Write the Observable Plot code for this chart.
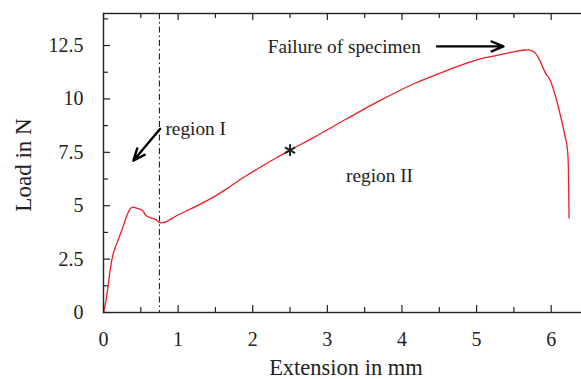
<!DOCTYPE html>
<html><head><meta charset="utf-8">
<script src="https://cdn.jsdelivr.net/npm/d3@7"></script>
<script src="https://cdn.jsdelivr.net/npm/@observablehq/plot@0.6"></script>
<style>
html,body{margin:0;padding:0;background:#fff;overflow:hidden}
#chart svg, #chart svg text, #chart svg g { font-family: "Liberation Serif", "DejaVu Serif", serif !important; }
</style>
</head><body><div id="chart"></div>
<script>
// Measured load-extension curve
const extension = [0, 0.03, 0.06, 0.09, 0.12, 0.18, 0.25, 0.32, 0.37, 0.40, 0.45, 0.50, 0.53, 0.56, 0.61, 0.70, 0.76, 0.81, 0.98, 1.21, 1.43, 1.65, 1.88, 2.10, 2.33, 2.5, 2.82, 3.26, 3.71, 4.16, 4.60, 5.05, 5.27, 5.50, 5.63, 5.70, 5.78, 5.85, 5.92, 5.98, 6.05, 6.12, 6.18, 6.22, 6.23, 6.24];
const load      = [0, 0.5, 1.2, 2.0, 2.6, 3.25, 3.9, 4.6, 4.9, 4.93, 4.88, 4.82, 4.75, 4.58, 4.46, 4.35, 4.2, 4.22, 4.53, 4.92, 5.32, 5.79, 6.33, 6.80, 7.27, 7.6, 8.20, 9.07, 9.93, 10.71, 11.33, 11.88, 12.04, 12.2, 12.29, 12.3, 12.17, 11.78, 11.23, 10.92, 10.22, 9.28, 8.34, 7.56, 6.77, 4.43];

// Axis ticks
const xMajorTicks = [0, 1, 2, 3, 4, 5, 6];
const xMinorTicks = [0.5, 1.5, 2.5, 3.5, 4.5, 5.5];
const yMajorTicks = [0, 2.5, 5, 7.5, 10, 12.5];
const yMinorTicks = [1.25, 3.75, 6.25, 8.75, 11.25, 13.75];

// Annotations
const boundaryX = [0.75];
const markerX = [2.5];
const markerY = [7.6];
const startNotes = ["region I", "Failure of specimen"];
const startNoteX = [0.83, 2.20];
const startNoteY = [8.6, 12.42];
const middleNotes = ["region II"];
const middleNoteX = [3.70];
const middleNoteY = [6.41];
const arrowX1 = [0.76, 4.47];
const arrowY1 = [8.6, 12.46];
const arrowX2 = [0.40, 5.36];
const arrowY2 = [7.11, 12.46];
const xLabel = "Extension in mm";
const yLabel = "Load in N";

const curve = extension.map((x, i) => ({x, y: load[i]}));
const notesStart = startNotes.map((t, i) => ({t, x: startNoteX[i], y: startNoteY[i]}));
const notesMiddle = middleNotes.map((t, i) => ({t, x: middleNoteX[i], y: middleNoteY[i]}));
const arrows = arrowX1.map((x1, i) => ({x1, y1: arrowY1[i], x2: arrowX2[i], y2: arrowY2[i]}));
const marker = markerX.map((x, i) => ({x, y: markerY[i]}));

const W = 581, H = 379, mL = 103, mR = -7, mT = 13, mB = 67;
const innerW = W - mL - mR, innerH = H - mT - mB;
const ink = "#222";
const serif = "'Liberation Serif', 'DejaVu Serif', serif";

const plot = Plot.plot({
  width: W, height: H,
  marginLeft: mL, marginRight: mR, marginTop: mT, marginBottom: mB,
  style: {fontFamily: serif, fontSize: "20px", background: "white", color: ink},
  x: {domain: [0, 6.5], axis: null},
  y: {domain: [0, 14], axis: null},
  marks: [
    Plot.axisX(xMajorTicks, {anchor: "bottom", tickSize: 0, tickPadding: 19, label: null, fontSize: 20, fontFamily: serif, fill: ink, tickFormat: d => String(d)}),
    Plot.axisY(yMajorTicks, {anchor: "left", tickSize: 0, tickPadding: 20, label: null, fontSize: 20, fontFamily: serif, fill: ink, tickFormat: d => String(d)}),
    // inward ticks
    Plot.tickX(xMajorTicks, {x: d => d, insetTop: innerH - 7, stroke: ink, strokeWidth: 1.2}),
    Plot.tickX(xMinorTicks, {x: d => d, insetTop: innerH - 5, stroke: ink, strokeWidth: 1.2}),
    Plot.tickX(xMajorTicks, {x: d => d, insetBottom: innerH - 7, stroke: ink, strokeWidth: 1.2}),
    Plot.tickX(xMinorTicks, {x: d => d, insetBottom: innerH - 5, stroke: ink, strokeWidth: 1.2}),
    Plot.tickY(yMajorTicks, {y: d => d, insetRight: innerW - 7, stroke: ink, strokeWidth: 1.2}),
    Plot.tickY(yMinorTicks, {y: d => d, insetRight: innerW - 5, stroke: ink, strokeWidth: 1.2}),
    Plot.tickY(yMajorTicks, {y: d => d, insetLeft: innerW - 7, stroke: ink, strokeWidth: 1.2}),
    Plot.tickY(yMinorTicks, {y: d => d, insetLeft: innerW - 5, stroke: ink, strokeWidth: 1.2}),
    Plot.ruleX(boundaryX, {x: d => d, stroke: ink, strokeWidth: 1.1, strokeDasharray: "6,3,1.5,3"}),
    Plot.line(curve, {x: "x", y: "y", stroke: "#ee1c25", strokeWidth: 1.3, curve: "monotone-x"}),
    Plot.dot(marker, {x: "x", y: "y", symbol: "asterisk", r: 5.5, stroke: ink, strokeWidth: 2}),
    Plot.arrow(arrows, {x1: "x1", y1: "y1", x2: "x2", y2: "y2", stroke: "black", strokeWidth: 2.4, headLength: 8, headAngle: 45}),
    Plot.text(notesStart, {x: "x", y: "y", text: "t", textAnchor: "start", fontSize: 19.3, fill: ink}),
    Plot.text(notesMiddle, {x: "x", y: "y", text: "t", textAnchor: "middle", fontSize: 19.3, fill: ink}),
    Plot.text([xLabel], {frameAnchor: "bottom", text: d => d, textAnchor: "middle", lineAnchor: "middle", dy: 55, dx: 0, fontSize: 22.5, fill: ink}),
    Plot.text([yLabel], {frameAnchor: "left", text: d => d, textAnchor: "middle", lineAnchor: "middle", dx: -80, dy: 2, rotate: -90, fontSize: 23, fill: ink}),
    Plot.frame({stroke: ink, strokeWidth: 1.4})
  ]
});
document.getElementById("chart").appendChild(plot);
</script>
</body></html>
